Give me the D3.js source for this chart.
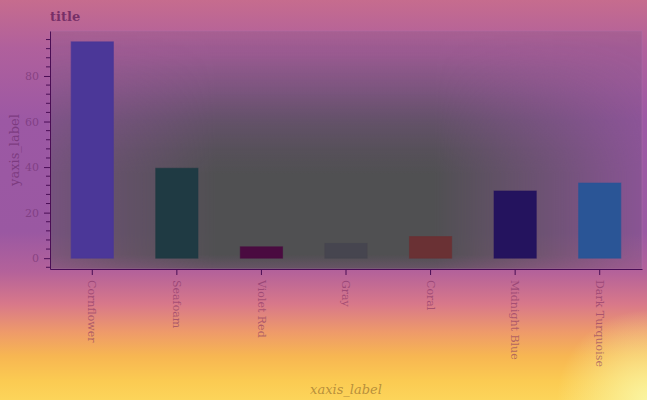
<!DOCTYPE html>
<html><head><meta charset="utf-8">
<script src="https://cdn.jsdelivr.net/npm/d3@7"></script>
<style>html,body{margin:0;padding:0;overflow:hidden;}svg{display:block;}</style>
</head><body>
<script>
const categories = ["Cornflower","Seafoam","Violet Red","Gray","Coral","Midnight Blue","Dark Turquoise"];
const values = [95, 39.5, 5, 6.5, 9.5, 29.5, 33];
const barColors = ["#4b3798","#1f3a43","#4a0b40","#46454f","#6a3134","#24135e","#2a5596"];
const yTicks = [0,20,40,60,80];

const W=647,H=400;
const m={l:50,r:5,t:31,b:131};
const pw=W-m.r-m.l, ph=H-m.b-m.t;
const svg=d3.select("body").append("svg").attr("width",W).attr("height",H);
const defs=svg.append("defs");
const bg=defs.append("linearGradient").attr("id","bg").attr("x1",0).attr("y1",0).attr("x2",0).attr("y2",1);
[[0,"#c66c8e"],[0.12,"#b0609c"],[0.3,"#9c58a4"],[0.58,"#9a58a2"],[0.68,"#b4629a"],[0.76,"#d8788a"],[0.83,"#ee9a6a"],[0.89,"#f7b652"],[0.95,"#fbca52"],[1,"#fcd45a"]]
.forEach(s=>bg.append("stop").attr("offset",s[0]).attr("stop-color",s[1]));
const hl=defs.append("radialGradient").attr("id","hl").attr("gradientUnits","userSpaceOnUse").attr("cx",W).attr("cy",H).attr("r",90);
hl.append("stop").attr("offset",0).attr("stop-color","#faf6a4").attr("stop-opacity",0.95);
hl.append("stop").attr("offset",1).attr("stop-color","#faf6a4").attr("stop-opacity",0);

const vg=defs.append("linearGradient").attr("id","vg").attr("x1",0).attr("y1",0).attr("x2",0).attr("y2",1);
[[0,0],[0.1,0.1],[0.25,0.4],[0.38,0.7],[0.5,0.9],[0.6,1],[0.94,1],[1,0.7]]
.forEach(s=>vg.append("stop").attr("offset",s[0]).attr("stop-color","#505052").attr("stop-opacity",s[1]));
const hg=defs.append("linearGradient").attr("id","hg").attr("x1",0).attr("y1",0).attr("x2",1).attr("y2",0);
[[0,0.4],[0.12,0.7],[0.28,1],[0.65,1],[0.85,0.5],[1,0.1]]
.forEach(s=>hg.append("stop").attr("offset",s[0]).attr("stop-color","#fff").attr("stop-opacity",s[1]));
defs.append("mask").attr("id","hm").append("rect").attr("x",m.l).attr("y",m.t).attr("width",pw).attr("height",ph).attr("fill","url(#hg)");

svg.append("rect").attr("width",W).attr("height",H).attr("fill","url(#bg)");
svg.append("rect").attr("width",W).attr("height",H).attr("fill","url(#hl)");

const x=d3.scaleBand().domain(categories).range([m.l,W-m.r]).paddingInner(0.5).paddingOuter(0.25);
const y=d3.scaleLinear().domain([-4.75,99.75]).range([H-m.b,m.t]);

svg.append("rect").attr("x",m.l).attr("y",m.t).attr("width",pw).attr("height",ph)
  .attr("fill","#5a4a78").attr("fill-opacity",0.15);
svg.append("rect").attr("x",m.l).attr("y",m.t).attr("width",pw).attr("height",ph)
  .attr("fill","url(#vg)").attr("mask","url(#hm)");
svg.append("rect").attr("x",m.l).attr("y",m.t).attr("width",pw).attr("height",ph)
  .attr("fill","none").attr("stroke","#b070a8").attr("stroke-opacity",0.45);

svg.append("g").selectAll("rect").data(categories).join("rect")
  .attr("x",d=>x(d)).attr("width",x.bandwidth())
  .attr("y",(d,i)=>y(values[i])).attr("height",(d,i)=>y(0)-y(values[i]))
  .attr("fill",(d,i)=>barColors[i]).attr("stroke",(d,i)=>barColors[i]).attr("stroke-opacity",0.6);

const font="DejaVu Serif";
const axisCol="#4a0d55";
const xa=svg.append("g").attr("transform",`translate(0,${H-m.b})`)
  .call(d3.axisBottom(x).tickSizeInner(6).tickSizeOuter(0).tickPadding(4));
xa.select(".domain").attr("stroke",axisCol);
xa.selectAll(".tick line").attr("stroke",axisCol);
xa.selectAll(".tick text").attr("font-family",font).attr("font-size",11).attr("fill","#7a2a60").attr("fill-opacity",0.55)
  .attr("transform","translate(0,2) rotate(90)").attr("text-anchor","start").attr("dy","0.35em").attr("x",9).attr("y",0);

const ya=svg.append("g").attr("transform",`translate(${m.l},0)`)
  .call(d3.axisLeft(y).tickValues(yTicks).tickSizeInner(6).tickSizeOuter(0).tickPadding(5));
ya.select(".domain").attr("stroke",axisCol);
ya.selectAll(".tick line").attr("stroke",axisCol);
ya.selectAll(".tick text").attr("font-family",font).attr("font-size",11).attr("fill","#6a2a6a").attr("fill-opacity",0.55);
const minor=d3.range(-4,100,4).filter(v=>v%20!==0);
ya.append("g").selectAll("line").data(minor).join("line")
  .attr("x1",-4).attr("x2",0).attr("y1",d=>y(d)).attr("y2",d=>y(d)).attr("stroke",axisCol);

svg.append("text").attr("x",50).attr("y",21).text("title").attr("font-family",font).attr("font-weight","bold")
  .attr("font-size",13).attr("fill","#6a2560").attr("fill-opacity",0.85);
svg.append("text").attr("transform",`translate(19,${(m.t+H-m.b)/2}) rotate(-90)`).attr("text-anchor","middle")
  .text("yaxis_label").attr("font-family",font).attr("font-size",13).attr("fill","#6a2a6a").attr("fill-opacity",0.65);
svg.append("text").attr("x",(m.l+W-m.r)/2).attr("y",394).attr("text-anchor","middle")
  .text("xaxis_label").attr("font-family",font).attr("font-style","italic").attr("font-size",13).attr("fill","#b08838").attr("fill-opacity",0.9);
</script>
</body></html>
